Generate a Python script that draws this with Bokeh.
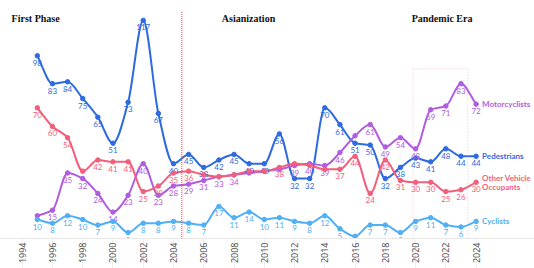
import numpy as np
from bokeh.plotting import figure
from bokeh.models import ColumnDataSource, Range1d, FixedTicker, Label, BoxAnnotation, Arrow
from bokeh.embed import file_html
from bokeh.resources import INLINE
from bokeh.core.properties import value

# ---------------- data ----------------
years = list(range(1995, 2025))
pedestrians = [98, 83, 84, 75, 65, 51, 73, 117, 67, 40, 45, 38, 42, 45, 40, 40, 56, 32, 32, 70,
               61, 51, 50, 32, 38, 43, 41, 48, 44, 44]
motorcyclists = [12, 15, 35, 32, 24, 14, 23, 40, 23, 28, 29, 31, 33, 34, 35, 36, 37, 39, 40, 39,
                 46, 55, 61, 49, 54, 48, 69, 71, 83, 72]
other_vehicle = [70, 60, 54, 36, 42, 41, 41, 25, 28, 35, 36, 34, 33, 34, 36, 36, 38, 40, 39, 37,
                 37, 44, 24, 42, 31, 30, 30, 25, 26, 30]
cyclists = [10, 8, 12, 10, 7, 9, 3, 8, 8, 9, 8, 7, 17, 11, 14, 10, 11, 9, 8, 12,
            5, 1, 7, 7, 3, 9, 11, 7, 6, 9]

# years whose value label is not visible in the reference (hidden by other marks)
hide_pedestrians = []
hide_motorcyclists = [1995, 2009, 2010, 2011, 2016]
hide_other_vehicle = [1998, 2006, 2007, 2008, 2009, 2010, 2012, 2013, 2014]
hide_cyclists = []

tick_years = list(range(1994, 2025, 2))
tick_labels = [str(y) for y in tick_years]

phase_names = ["First Phase", "Asianization", "Pandemic Era"]
phase_x = [1993.3, 2008.96, 2021.75]
phase_align = ["left", "center", "center"]
phase_divider_year = 2004.55
pandemic_box = (2019.83, 2023.45)

series = [
    ("Pedestrians", pedestrians, "#2e6be0", hide_pedestrians),
    ("Motorcyclists", motorcyclists, "#b05de0", hide_motorcyclists),
    ("Other Vehicle\nOccupants", other_vehicle, "#f25f7c", hide_other_vehicle),
    ("Cyclists", cyclists, "#50b0f5", hide_cyclists),
]

# ---------------- figure ----------------
p = figure(width=534, height=268, output_backend="svg", toolbar_location=None,
           x_range=Range1d(1992.566, 2027.86), y_range=Range1d(-0.2, 127.7),
           y_axis_location=None, min_border_left=0, min_border_right=0,
           min_border_top=0, min_border_bottom=30)
p.outline_line_color = None
p.xgrid.visible = False
p.ygrid.visible = False
p.background_fill_color = "white"
p.border_fill_color = "white"

ax = p.xaxis[0]
ax.ticker = FixedTicker(ticks=tick_years)
ax.major_label_overrides = {y: l for y, l in zip(tick_years, tick_labels)}
ax.major_label_orientation = np.pi / 2
ax.major_label_text_font = "Noto Sans"
ax.major_label_text_font_size = "9px"
ax.major_label_text_color = "#555555"
ax.axis_line_color = "#e8e8e8"
ax.major_tick_line_color = "#eeeeee"
ax.major_tick_out = 30
ax.major_tick_in = 0
ax.minor_tick_line_color = None
ax.major_label_standoff = -26


def monotone_bezier(x, y):
    x = np.asarray(x, float)
    y = np.asarray(y, float)
    h = np.diff(x)
    d = np.diff(y) / h
    m = np.zeros_like(y)
    m[0] = d[0]
    m[-1] = d[-1]
    for i in range(1, len(y) - 1):
        if d[i - 1] * d[i] <= 0:
            m[i] = 0.0
        else:
            w1 = 2 * h[i] + h[i - 1]
            w2 = h[i] + 2 * h[i - 1]
            m[i] = (w1 + w2) / (w1 / d[i - 1] + w2 / d[i])
    return dict(x0=x[:-1], y0=y[:-1], x1=x[1:], y1=y[1:],
                cx0=x[:-1] + h / 3, cy0=y[:-1] + m[:-1] * h / 3,
                cx1=x[1:] - h / 3, cy1=y[1:] - m[1:] * h / 3)


# phase overlays
p.add_layout(BoxAnnotation(left=pandemic_box[0], right=pandemic_box[1], top=91, bottom=-12.4,
                           fill_alpha=0, line_color="#f29a9f", line_width=1, line_dash="2 1"))
p.add_layout(Arrow(end=None, x_start=phase_divider_year, y_start=121.5,
                   x_end=phase_divider_year, y_end=-16.5,
                   line_color="#e8404a", line_width=1, line_dash="1 1"))

for name, vals, color, hidden in series:
    bz = monotone_bezier(years, vals)
    p.bezier(source=ColumnDataSource(bz), x0="x0", y0="y0", x1="x1", y1="y1",
             cx0="cx0", cy0="cy0", cx1="cx1", cy1="cy1", line_color=color, line_width=2)

for name, vals, color, hidden in series:
    p.scatter(years, vals, size=4.5, color=color)
    labels = ["" if yr in hidden else str(v) for yr, v in zip(years, vals)]
    src = ColumnDataSource(dict(x=years, y=vals, t=labels))
    p.text(x="x", y="y", text="t", source=src, text_align="center", text_baseline="top",
           y_offset=4, text_font_size="8px", text_color=color, text_font=value("Lato"))
    p.text(x=[years[-1]], y=[vals[-1]], text=[name], x_offset=6, text_align="left",
           text_baseline="middle", text_font_size="8px", text_color=color,
           text_font=value("Lato"), text_font_style="bold", text_line_height=0.85)

for t, x, al in zip(phase_names, phase_x, phase_align):
    p.add_layout(Label(x=x, y=118, text=t, text_align=al, text_baseline="middle",
                       text_font="Liberation Serif", text_font_style="bold",
                       text_font_size="10px", text_color="#111111"))

open("out.html", "w").write(file_html(p, INLINE))
